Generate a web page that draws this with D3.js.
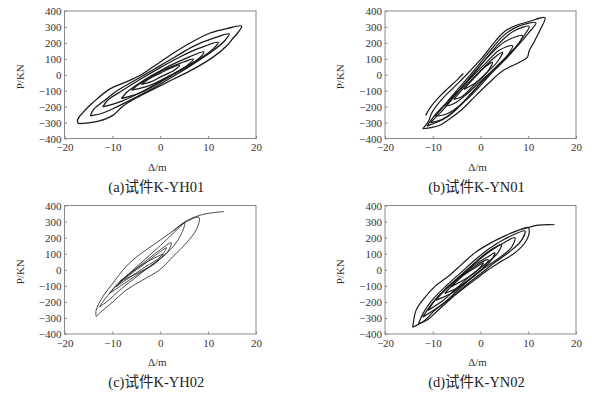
<!DOCTYPE html>
<html>
<head>
<meta charset="utf-8">
<script src="https://cdn.jsdelivr.net/npm/d3@7"></script>
<style>
  body { margin: 0; background: #fff; }
  svg { display: block; }
  .tick text { font-family: "Liberation Serif", "Times New Roman", serif; font-size: 11px; fill: #333; }
</style>
</head>
<body>
<svg width="592" height="394"></svg>
<script>
// 刻度
const xTicks = [-20, -10, 0, 10, 20];
const yTicks = [400, 300, 200, 100, 0, -100, -200, -300, -400];
const captions = ['(a)试件K-YH01', '(b)试件K-YN01', '(c)试件K-YH02', '(d)试件K-YN02'];

// 滞回曲线 [Δ, P]
const loopsA = [
  [[-17.1,-307],[-17.3,-285],[-16.2,-239],[-14.1,-176],[-10.6,-90],[-7.1,-45],[-4.3,-5],[-1.5,50],[2.7,135],[6.9,210],[10.4,262],[13.9,290],[17,305],[16.3,267],[15.2,229],[13.9,182],[11.1,112],[6.9,35],[2.7,-28],[-0.8,-81],[-4.3,-134],[-7.8,-197],[-9.9,-255],[-12.7,-290],[-15.5,-303],[-17.1,-307]],
  [[-14.6,-258],[-14,-220],[-12,-170],[-9,-100],[-5,-30],[-1,40],[3,110],[7,180],[11,228],[14.4,256],[13.5,215],[11,150],[7,70],[3,-5],[-1,-75],[-5,-140],[-9,-200],[-12,-240],[-14.6,-258]],
  [[-12,-202],[-11,-160],[-8,-100],[-4,-25],[0,45],[4,110],[8,165],[12.1,203],[11,160],[8,95],[4,25],[0,-45],[-4,-110],[-8,-165],[-12,-202]],
  [[-8.1,-149],[-7,-110],[-4,-45],[0,25],[4,85],[9.1,144],[8,100],[4,25],[0,-45],[-4,-110],[-8.1,-149]],
  [[-6,-96],[-4,-50],[0,20],[4,70],[6.9,98],[5.5,55],[2,-5],[-2,-65],[-6,-96]],
  [[-4,-60],[-2,-20],[0,10],[2,40],[4,60],[3,30],[0,-15],[-2,-45],[-4,-60]]
];

const loopsB = [
  [[-12.1,-339],[-10.9,-292],[-10.2,-239],[-8.1,-155],[-5.3,-71],[-2.5,14],[0.4,109],[3.2,214],[5.3,277],[7.4,309],[10.2,334],[13.5,358],[12.6,288],[11.2,204],[10.2,151],[9.8,109],[8.1,77],[4.6,24],[1.8,-50],[-1.1,-134],[-3.9,-218],[-6.7,-282],[-8.8,-320],[-12.1,-339]],
  [[-11.2,-322],[-10,-270],[-7,-170],[-4,-65],[-1,40],[2,150],[5,250],[8,305],[11.6,326],[10,260],[8,190],[5,100],[2,10],[-1,-85],[-4,-185],[-7,-265],[-11.2,-322]],
  [[-10.5,-300],[-8,-225],[-5,-120],[-2,-15],[1,95],[4,200],[7,275],[10.2,304],[9,240],[7,160],[4,70],[1,-20],[-2,-120],[-5,-215],[-8,-280],[-10.5,-300]],
  [[-9.5,-260],[-7,-175],[-4,-80],[-1,25],[2,125],[5,205],[8.8,246],[7.5,175],[5,90],[2,0],[-1,-100],[-4,-185],[-7,-245],[-9.5,-260]],
  [[-7.4,-197],[-5,-115],[-2,-20],[1,70],[4,155],[6.7,182],[5.5,115],[3,40],[0,-40],[-3,-125],[-5.5,-180],[-7.4,-197]],
  [[-5.6,-155],[-3,-65],[0,25],[3,110],[4.6,140],[3.5,80],[1,5],[-2,-85],[-4,-140],[-5.6,-155]],
  [[-3.5,-92],[-1,-10],[1,50],[2.5,77],[1.5,20],[-1,-50],[-3.5,-92]],
  [[-3.6,8],[-5,-35],[-7,-90],[-9,-150],[-10.5,-205],[-11.5,-255]]
];

const loopsC = [
  [[-13.4,-291],[-13.4,-253],[-12,-168],[-9.9,-84],[-7.1,21],[-4.3,95],[-0.8,168],[2.7,242],[5.5,300],[8.1,326],[7.6,253],[5.5,168],[2.7,84],[-0.1,0],[-3.6,-63],[-7.1,-126],[-9.9,-200],[-12,-253],[-13.4,-291]],
  [[2.7,242],[5.5,305],[9,345],[13.3,362]],
  [[-12.7,-232],[-11.5,-180],[-9,-95],[-6,-10],[-3,70],[0,150],[3,235],[5.1,290],[4.5,230],[3,155],[1,95],[-2,25],[-5,-45],[-8,-115],[-11,-195],[-12.7,-232]],
  [[-10.6,-147],[-9,-90],[-6,-15],[-3,55],[0,125],[2.3,168],[1.5,110],[-1,45],[-4,-15],[-7,-75],[-10.6,-147]],
  [[-9.2,-105],[-7,-45],[-4,20],[-1,90],[1.3,137],[0,80],[-3,20],[-6,-40],[-9.2,-105]],
  [[-8.5,-74],[-6,-15],[-3,45],[0.6,95],[-1,40],[-4,-10],[-8.5,-74]]
];

const loopsD = [
  [[-14.2,-358],[-14,-316],[-13.5,-253],[-12.1,-189],[-9.6,-105],[-6.8,-42],[-4,32],[-1.2,105],[1.6,158],[5.1,211],[8.6,253],[10,263],[10.2,232],[9.3,168],[7.2,105],[4.4,53],[1.6,0],[-1.2,-63],[-4,-126],[-6.8,-189],[-9.6,-253],[-11.7,-316],[-14.2,-358]],
  [[8.6,253],[10,263],[12.1,278],[15.5,280]],
  [[-13,-337],[-12,-270],[-10,-185],[-7,-95],[-4,-15],[-1,65],[2,135],[5,190],[9.3,242],[8.5,180],[6,110],[3,45],[0,-25],[-3,-95],[-6,-175],[-9,-255],[-11,-310],[-13,-337]],
  [[-12.1,-295],[-10,-205],[-7,-115],[-4,-35],[-1,45],[2,115],[5,170],[7.2,200],[6.5,140],[4,75],[1,15],[-2,-55],[-5,-135],[-8,-215],[-12.1,-295]],
  [[-11,-253],[-9,-170],[-6,-85],[-3,-5],[0,75],[2.5,130],[4.4,158],[3.5,100],[1,35],[-2,-35],[-5,-115],[-8,-195],[-11,-253]],
  [[-9.3,-189],[-7,-110],[-4,-35],[-1,35],[1.5,80],[3,105],[2,50],[0,-5],[-3,-75],[-6,-145],[-9.3,-189]],
  [[-7.5,-147],[-5,-70],[-2,5],[1.6,63],[0.5,10],[-2,-55],[-5,-115],[-7.5,-147]],
  [[-6.1,-105],[-4,-45],[-1,15],[0.6,42],[-0.5,0],[-3,-55],[-6.1,-105]]
];

const svg = d3.select('svg');

// 四个子图的位置
const panels = [
  { loops: loopsA, left: 64.5, top: 11, width: 191.5, height: 127.5, sw: 1.3 },
  { loops: loopsB, left: 385, top: 11, width: 191, height: 127.5, sw: 1.2 },
  { loops: loopsC, left: 64.5, top: 205.5, width: 191.5, height: 128.5, sw: 0.8 },
  { loops: loopsD, left: 385, top: 205.5, width: 191, height: 128.5, sw: 1.2 }
];

panels.forEach((p, i) => {
  const g = svg.append('g').attr('transform', `translate(${p.left},${p.top})`);

  const x = d3.scaleLinear().domain([-20, 20]).range([0, p.width]);
  const y = d3.scaleLinear().domain([-400, 400]).range([p.height, 0]);

  const fmt = d => d < 0 ? '\u2212' + Math.abs(d) : String(d);

  const yAxis = g.append('g')
    .call(d3.axisLeft(y).tickValues(yTicks).tickSize(-2.5).tickPadding(3).tickFormat(fmt));
  const xAxis = g.append('g')
    .attr('transform', `translate(0,${p.height})`)
    .call(d3.axisBottom(x).tickValues(xTicks).tickSize(-2.5).tickPadding(5).tickFormat(fmt));
  [yAxis, xAxis].forEach(a => {
    a.select('.domain').remove();
    a.selectAll('.tick line').attr('stroke', '#888');
  });

  // 边框
  g.append('rect')
    .attr('width', p.width).attr('height', p.height)
    .attr('fill', 'none').attr('stroke', '#8a8a8a').attr('stroke-width', 1);

  const line = d3.line()
    .x(d => x(d[0]))
    .y(d => y(d[1]))
    .curve(d3.curveCatmullRom.alpha(0.5));

  g.selectAll('path.loop')
    .data(p.loops)
    .enter()
    .append('path')
    .attr('class', 'loop')
    .attr('d', line)
    .attr('fill', 'none')
    .attr('stroke', '#1a1a1a')
    .attr('stroke-width', p.sw)
    .attr('stroke-linejoin', 'round');

  // 坐标轴标题
  g.append('text')
    .attr('transform', `translate(${-41},${p.height / 2 + 2}) rotate(-90)`)
    .attr('text-anchor', 'middle')
    .style('font-family', '"Liberation Serif", serif')
    .style('font-size', '11px')
    .attr('fill', '#333')
    .text('P/KN');

  g.append('text')
    .attr('x', p.width / 2 - 3)
    .attr('y', p.height + 32)
    .attr('text-anchor', 'middle')
    .style('font-family', '"Liberation Serif", serif')
    .style('font-size', '11px')
    .attr('fill', '#333')
    .text('\u0394/m');

  g.append('text')
    .attr('x', p.width / 2 - 4)
    .attr('y', p.height + 53)
    .attr('text-anchor', 'middle')
    .style('font-family', '"Liberation Serif", "Noto Sans CJK SC", serif')
    .style('font-size', '14.5px')
    .attr('fill', '#222')
    .text(captions[i]);
});
</script>
</body>
</html>
